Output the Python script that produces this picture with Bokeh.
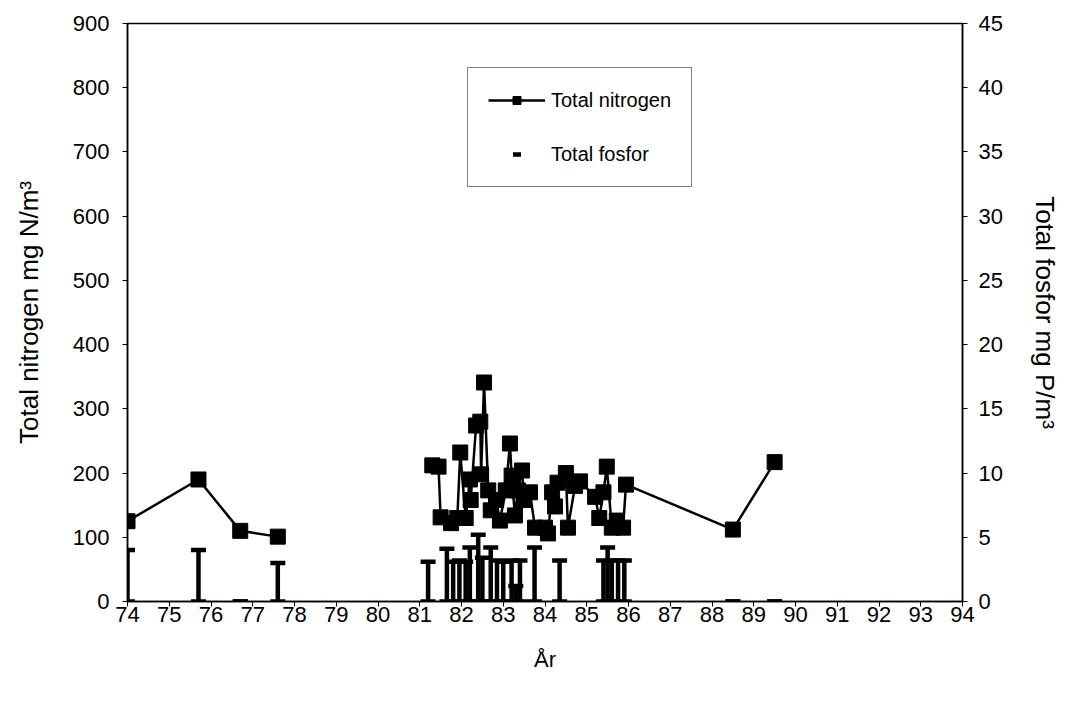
import numpy as np
from bokeh.plotting import figure
from bokeh.models import Range1d, LinearAxis, Legend, LegendItem, FixedTicker, ColumnDataSource
from bokeh.embed import file_html
from bokeh.resources import INLINE

nan = float("nan")

# Total nitrogen (mg N/m3), left axis; NaN marks the gap in the line
nitrogen_year = [74.0, 75.7, 76.7, 77.6, nan,
                 81.3, 81.45, 81.5, 81.75, 81.9, 81.97, 82.1, 82.2, 82.22, 82.35,
                 82.45, 82.47, 82.54, 82.64, 82.7, 82.83, 82.92, 83.06, 83.16, 83.2,
                 83.28, 83.35, 83.45, 83.5, 83.64, 83.76, 84.0, 84.07, 84.17, 84.24,
                 84.3, 84.5, 84.55, 84.72, 84.84, 85.2, 85.3, 85.4, 85.48, 85.6,
                 85.72, 85.87, 85.94, 88.5, 89.5]
nitrogen_value = [125, 190, 110, 101, nan,
                  212, 210, 131, 122, 130, 232, 130, 190, 158, 274,
                  280, 198, 341, 173, 142, 158, 126, 173, 246, 196,
                  134, 173, 204, 158, 170, 115, 115, 106, 170, 148,
                  185, 200, 115, 180, 187, 163, 130, 170, 210, 115,
                  126, 115, 182, 112, 217]

# Total fosfor (mg P/m3), right axis
fosfor_year = [74.0, 75.7, 76.7, 77.6, 81.2, 81.65, 81.8, 81.95, 82.1, 82.2,
               82.4, 82.5, 82.7, 82.85, 83.0, 83.2, 83.3, 83.4, 83.75, 84.35,
               85.4, 85.5, 85.6, 85.75, 85.9, 88.5, 89.5]
fosfor_value = [4.0, 4.0, 0.0, 3.0, 3.1, 4.1, 3.1, 3.2, 3.1, 4.2,
                5.2, 3.4, 4.2, 3.2, 3.1, 3.2, 1.2, 3.2, 4.2, 3.2,
                3.2, 4.2, 3.2, 3.2, 3.2, 0.0, 0.0]

x_ticks = list(range(74, 95))
n_ticks = list(range(0, 901, 100))
p_ticks = list(range(0, 46, 5))

FONT = "Liberation Sans"

p = figure(width=1062, height=690, output_backend="svg", toolbar_location=None,
           x_range=Range1d(74, 94), y_range=Range1d(0, 900),
           min_border_left=127, min_border_right=99, min_border_top=23, min_border_bottom=89)
p.extra_y_ranges = {"p": Range1d(0, 45)}

p.xgrid.visible = False
p.ygrid.visible = False
p.outline_line_color = "black"
p.outline_line_width = 1.5
p.background_fill_color = "white"
p.border_fill_color = "white"

nsrc = ColumnDataSource(dict(x=nitrogen_year, y=nitrogen_value))
n_line = p.line("x", "y", source=nsrc, line_color="black", line_width=2.5)
n_pts = p.scatter("x", "y", source=nsrc, marker="square", size=15,
                  fill_color="black", line_color="black")

fsrc = ColumnDataSource(dict(x=fosfor_year, y=fosfor_value, z=[0.0] * len(fosfor_value)))
p.segment("x", "z", "x", "y", source=fsrc, y_range_name="p", line_color="black", line_width=4.5)
f_top = p.scatter("x", "y", source=fsrc, y_range_name="p", marker="dash", size=15,
                  line_color="black", line_width=4.5)
p.scatter("x", "z", source=fsrc, y_range_name="p", marker="dash", size=15,
          line_color="black", line_width=4.5)

def style(ax, title_size):
    ax.major_label_text_font = FONT
    ax.major_label_text_font_size = "22px"
    ax.major_label_text_color = "black"
    ax.axis_label_text_font = FONT
    ax.axis_label_text_font_size = title_size
    ax.axis_label_text_font_style = "normal"
    ax.axis_label_text_color = "black"
    ax.axis_line_color = "black"
    ax.axis_line_width = 1.5
    ax.major_tick_line_color = "black"
    ax.major_tick_in = 0
    ax.major_tick_out = 5
    ax.minor_tick_line_color = None

xa = p.xaxis[0]
style(xa, "22px")
xa.ticker = FixedTicker(ticks=x_ticks)
xa.axis_label = "År"
xa.major_label_standoff = 0
xa.axis_label_standoff = 22

ya = p.yaxis[0]
style(ya, "26px")
ya.ticker = FixedTicker(ticks=n_ticks)
ya.axis_label = "Total nitrogen mg N/m³"
ya.major_label_standoff = 13
ya.axis_label_standoff = 26

ra = LinearAxis(y_range_name="p")
style(ra, "26px")
ra.ticker = FixedTicker(ticks=p_ticks)
ra.axis_label = "Total fosfor mg P/m³"
ra.major_label_standoff = 11
ra.axis_label_standoff = 24
p.add_layout(ra, "right")

legend = Legend(items=[LegendItem(label="Total nitrogen", renderers=[n_line, n_pts]),
                       LegendItem(label="Total fosfor", renderers=[f_top])],
                location=(340, 414))
legend.label_text_font = FONT
legend.label_text_font_size = "20px"
legend.label_text_color = "black"
legend.glyph_width = 57
legend.glyph_height = 20
legend.label_height = 24
legend.label_standoff = 6
legend.spacing = 30
legend.padding = 20
legend.margin = 0
legend.border_line_color = "black"
legend.border_line_width = 1
legend.background_fill_color = "white"
legend.background_fill_alpha = 1
p.add_layout(legend, "center")

open("out.html", "w").write(file_html(p, INLINE))
